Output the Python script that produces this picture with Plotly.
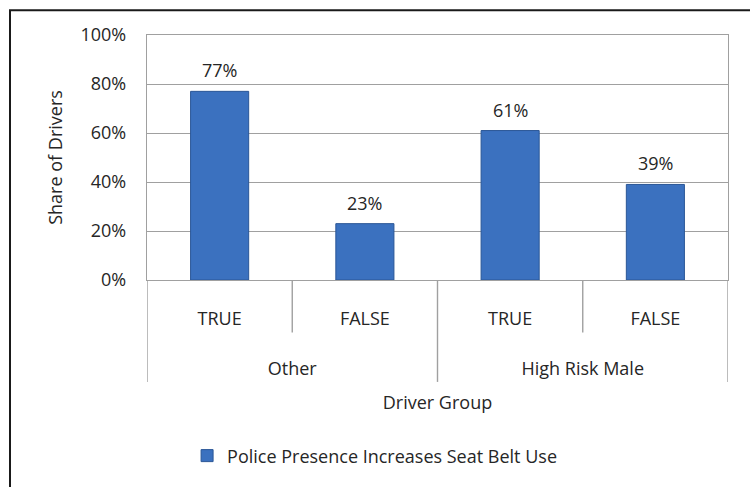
import plotly.graph_objects as go

# Survey results by driver group
groups = ["Other", "Other", "High Risk Male", "High Risk Male"]
answers = ["TRUE", "FALSE", "TRUE", "FALSE"]
shares = [0.77, 0.23, 0.61, 0.39]
y_ticks = [0, 0.2, 0.4, 0.6, 0.8, 1.0]
y_tick_labels = ["0%", "20%", "40%", "60%", "80%", "100%"]
series_name = "Police Presence Increases Seat Belt Use"

FONT = "Open Sans"
FS = 18
TXT = "#262626"
GRID = "#a0a0a0"

# unique category keys, shown with the answer text only
keys = [f"{g}|{a}" for g, a in zip(groups, answers)]
group_names = list(dict.fromkeys(groups))
group_centers = [sum(i for i, g in enumerate(groups) if g == name) / groups.count(name)
                 for name in group_names]

fig = go.Figure()
fig.add_trace(go.Bar(
    x=keys,
    y=shares,
    name=series_name,
    width=0.4,
    marker=dict(color="#3b71bf", line=dict(color="#2a5696", width=1)),
    hovertemplate="%{y:.0%}<extra></extra>",
))

# value labels above the bars
for k, v in zip(keys, shares):
    fig.add_annotation(x=k, y=v, text=f"{v:.0%}", showarrow=False,
                       yanchor="bottom", yshift=7,
                       font=dict(family=FONT, size=FS, color=TXT))

# separators between answers within a group, and between groups
n = len(keys)
for i in range(1, n):
    outer = groups[i] != groups[i - 1]
    fig.add_shape(type="line", xref="x2", yref="paper", x0=i - 0.5, x1=i - 0.5,
                  y0=0, y1=-0.416 if outer else -0.214,
                  line=dict(color=GRID, width=1.4))
for xb in [-0.5, n - 0.5]:
    fig.add_shape(type="line", xref="x2", yref="paper", x0=xb, x1=xb,
                  y0=0, y1=-0.416, line=dict(color=GRID, width=1.4))

# chart frame
fig.add_shape(type="rect", xref="paper", yref="paper",
              x0=-0.2358, x1=1.2, y0=-1.2, y1=1.1008,
              line=dict(color="#1a1a1a", width=2), fillcolor="rgba(0,0,0,0)")

fig.update_layout(
    width=750, height=487,
    margin=dict(l=147, r=22, t=35, b=204),
    paper_bgcolor="white", plot_bgcolor="white",
    font=dict(family=FONT, size=FS, color=TXT),
    showlegend=True,
    legend=dict(orientation="h", x=0.069, xanchor="left", y=-0.718, yanchor="middle",
                font=dict(family=FONT, size=FS, color=TXT)),
    xaxis=dict(
        type="category", categoryarray=keys, categoryorder="array",
        tickvals=keys, ticktext=answers, range=[-0.5, n - 0.5],
        showline=True, linecolor=GRID, linewidth=1.4, mirror=True,
        ticks="", ticklabelstandoff=22, showgrid=False, automargin=False,
        tickfont=dict(family=FONT, size=FS, color=TXT),
    ),
    xaxis2=dict(
        overlaying="x", side="bottom", anchor="y", type="linear",
        range=[-0.5, n - 0.5], tickvals=group_centers, ticktext=group_names,
        ticks="", ticklabelstandoff=76, showgrid=False, zeroline=False, showline=False,
        automargin=False,
        tickfont=dict(family=FONT, size=FS, color=TXT),
        title=dict(text="Driver Group", font=dict(family=FONT, size=FS, color=TXT), standoff=17),
    ),
    yaxis=dict(
        range=[0, 1], tickvals=y_ticks, ticktext=y_tick_labels,
        showgrid=True, gridcolor=GRID, gridwidth=1.4,
        showline=True, linecolor=GRID, linewidth=1.4, mirror=True,
        ticks="", ticklabelstandoff=16, zeroline=False, automargin=False,
        tickfont=dict(family=FONT, size=FS, color=TXT),
        title=dict(text="Share of Drivers", font=dict(family=FONT, size=FS, color=TXT), standoff=13),
    ),
)

fig.write_html("out.html")
